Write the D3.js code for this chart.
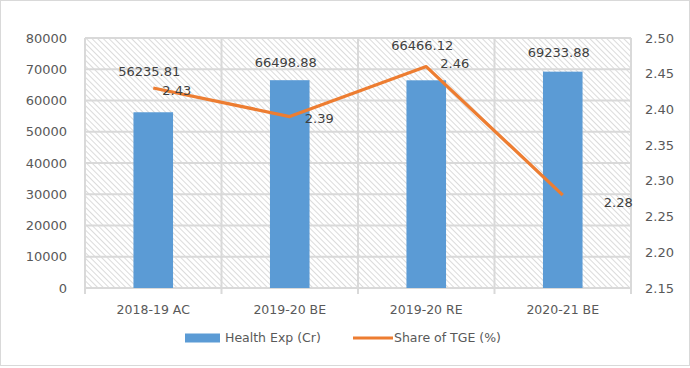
<!DOCTYPE html>
<html>
<head>
<meta charset="utf-8">
<script src="https://cdn.jsdelivr.net/npm/d3@7"></script>
<style>
  body { margin: 0; background: #fff; }
  text { font-family: "DejaVu Sans", sans-serif; fill: #595959; }
</style>
</head>
<body>
<div id="chart"></div>
<script>
const categories = ['2018-19 AC', '2019-20 BE', '2019-20 RE', '2020-21 BE'];
const healthExp = [56235.81, 66498.88, 66466.12, 69233.88];
const shareTGE = [2.43, 2.39, 2.46, 2.28];
const leftTicks = [0, 10000, 20000, 30000, 40000, 50000, 60000, 70000, 80000];
const rightTicks = [2.15, 2.20, 2.25, 2.30, 2.35, 2.40, 2.45, 2.50];

const W = 690, H = 368;
const margin = { top: 38, right: 59, bottom: 80, left: 85 };
const width = W - margin.left - margin.right;
const height = H - margin.top - margin.bottom;

const root = d3.select('#chart').append('svg')
  .attr('width', W).attr('height', H);

// outer frame
root.append('rect')
  .attr('x', 0.5).attr('y', 0.5)
  .attr('width', W - 1).attr('height', H - 3)
  .attr('fill', '#fff').attr('stroke', '#d9d9d9');

// hatch pattern (lines running top-left to bottom-right)
const defs = root.append('defs');
const pat = defs.append('pattern')
  .attr('id', 'hatch').attr('patternUnits', 'userSpaceOnUse')
  .attr('width', 4).attr('height', 4)
  .attr('patternTransform', 'rotate(-45)');
pat.append('line')
  .attr('x1', 0).attr('y1', 0).attr('x2', 0).attr('y2', 4)
  .attr('stroke', '#cccccc').attr('stroke-width', 1.4);

const svg = root.append('g')
  .attr('transform', `translate(${margin.left},${margin.top})`);

const x = d3.scaleBand().domain(categories).range([0, width]);
const y = d3.scaleLinear().domain([0, 80000]).range([height, 0]);
const y2 = d3.scaleLinear().domain([2.15, 2.50]).range([height, 0]);

svg.append('rect')
  .attr('width', width).attr('height', height)
  .attr('fill', 'url(#hatch)');

// horizontal grid
svg.append('g')
  .selectAll('line').data(leftTicks).join('line')
  .attr('x1', 0).attr('x2', width)
  .attr('y1', d => y(d)).attr('y2', d => y(d))
  .attr('stroke', '#d9d9d9').attr('stroke-width', 2);

// vertical grid at band edges
const edges = categories.map(c => x(c)).concat([width]);
svg.append('g')
  .selectAll('line').data(edges).join('line')
  .attr('x1', d => d).attr('x2', d => d)
  .attr('y1', 0).attr('y2', height + 6)
  .attr('stroke', '#d9d9d9').attr('stroke-width', 2);

// left axis labels
svg.append('g')
  .selectAll('text').data(leftTicks).join('text')
  .attr('x', -18).attr('y', d => y(d)).attr('dy', '0.35em')
  .attr('text-anchor', 'end').style('font-size', '13px')
  .text(d => d);

// right axis labels
svg.append('g')
  .selectAll('text').data(rightTicks).join('text')
  .attr('x', width + 14).attr('y', d => y2(d)).attr('dy', '0.35em')
  .attr('text-anchor', 'start').style('font-size', '13px')
  .text(d => d.toFixed(2));

// category labels
svg.append('g')
  .selectAll('text').data(categories).join('text')
  .attr('x', d => x(d) + x.bandwidth() / 2).attr('y', height + 22)
  .attr('dy', '0.35em').attr('text-anchor', 'middle')
  .style('font-size', '12.5px')
  .text(d => d);

// bars
const barW = x.bandwidth() * 0.29;
svg.append('g')
  .selectAll('rect').data(healthExp).join('rect')
  .attr('x', (d, i) => x(categories[i]) + (x.bandwidth() - barW) / 2)
  .attr('y', d => y(d))
  .attr('width', barW).attr('height', d => height - y(d))
  .attr('fill', '#5b9bd5');

// line
const line = d3.line()
  .x((d, i) => x(categories[i]) + x.bandwidth() / 2)
  .y(d => y2(d));
svg.append('path')
  .attr('d', line(shareTGE))
  .attr('fill', 'none').attr('stroke', '#ed7d31').attr('stroke-width', 3.2)
  .attr('stroke-linejoin', 'round');

// bar value labels (manually placed in the source chart)
const barLabelRise = [41, 18, 35, 19];
svg.append('g')
  .selectAll('text').data(healthExp).join('text')
  .attr('x', (d, i) => x(categories[i]) + x.bandwidth() / 2 - 4)
  .attr('y', (d, i) => y(d) - barLabelRise[i])
  .attr('dy', '0.35em').attr('text-anchor', 'middle')
  .style('font-size', '13px').style('fill', '#404040')
  .text(d => d.toFixed(2));

// line value labels
const lineLabelDx = [9, 15, 14, 41];
svg.append('g')
  .selectAll('text').data(shareTGE).join('text')
  .attr('x', (d, i) => x(categories[i]) + x.bandwidth() / 2 + lineLabelDx[i])
  .attr('y', (d, i) => y2(d) + [2, 2, -3, 7][i])
  .attr('dy', '0.35em').attr('text-anchor', 'start')
  .style('font-size', '13px').style('fill', '#404040')
  .text(d => d.toFixed(2));

// legend
const leg = root.append('g').attr('transform', 'translate(185,338)');
leg.append('rect').attr('x', 0).attr('y', -4.5).attr('width', 35).attr('height', 9)
  .attr('fill', '#5b9bd5');
leg.append('text').attr('x', 40).attr('y', 0).attr('dy', '0.35em')
  .style('font-size', '12.5px').text('Health Exp (Cr)');
leg.append('line').attr('x1', 168).attr('x2', 208).attr('y1', 0).attr('y2', 0)
  .attr('stroke', '#ed7d31').attr('stroke-width', 3);
leg.append('text').attr('x', 209).attr('y', 0).attr('dy', '0.35em')
  .style('font-size', '12.5px').text('Share of TGE (%)');
</script>
</body>
</html>
